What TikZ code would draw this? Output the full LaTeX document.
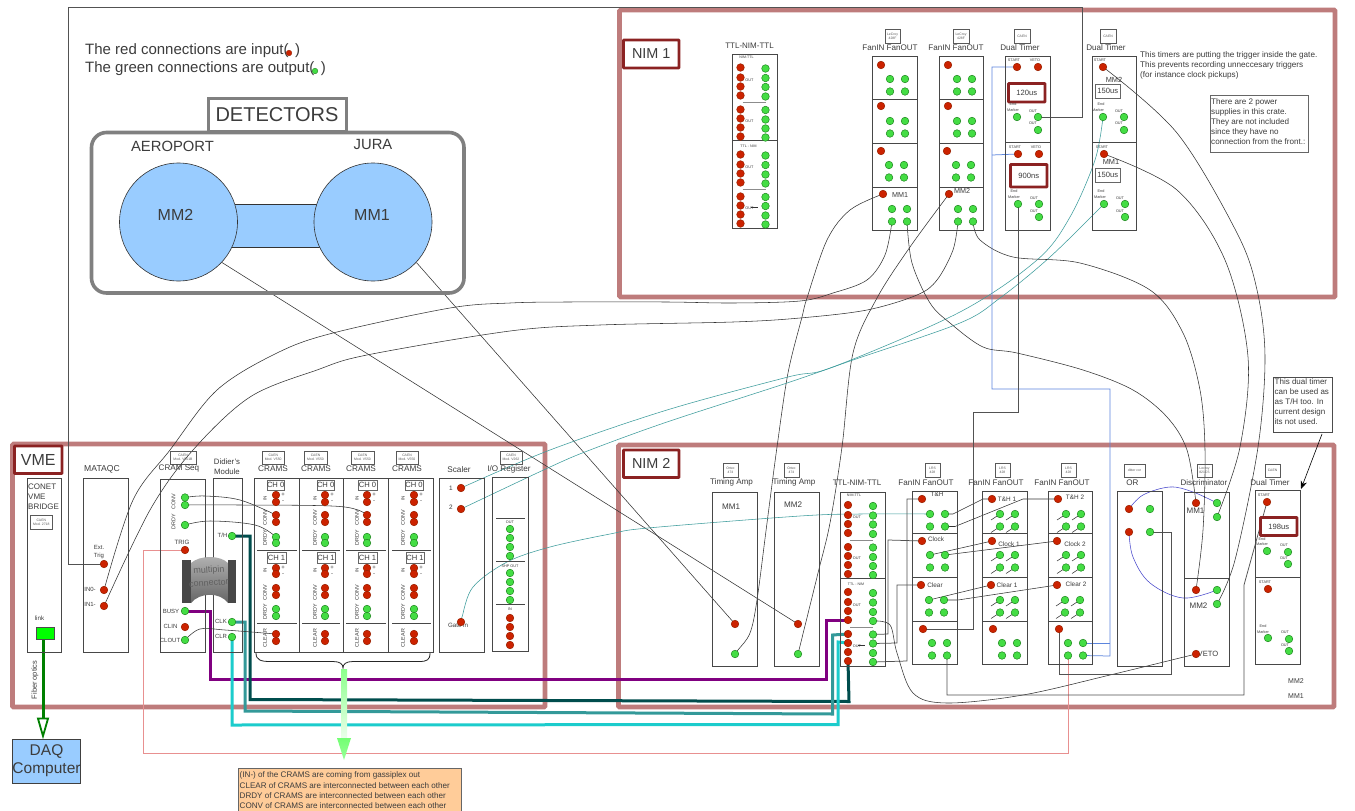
\documentclass[tikz,border=0pt]{standalone}
\usepackage{fontspec}
\setmainfont{Liberation Sans}
\usetikzlibrary{arrows.meta}
\pgfdeclarelayer{cratelayer}
\pgfdeclarelayer{wirelayer}
\pgfsetlayers{cratelayer,wirelayer,main}
\definecolor{cratecol}{HTML}{BE7C7C}
\definecolor{labred}{HTML}{8B2222}
\definecolor{inkcol}{HTML}{3C3C3C}
\definecolor{redport}{HTML}{CC2200}
\definecolor{redline}{HTML}{992200}
\definecolor{grnport}{HTML}{44DD44}
\definecolor{grnline}{HTML}{228822}
\definecolor{skyfill}{HTML}{99CCFF}
\definecolor{tealthin}{HTML}{3C9C9C}
\definecolor{blueline}{HTML}{5B85DD}
\definecolor{orline}{HTML}{4A4ACC}
\definecolor{pinkline}{HTML}{E89090}
\definecolor{buspurple}{HTML}{800080}
\definecolor{busdark}{HTML}{004D4D}
\definecolor{busmid}{HTML}{339999}
\definecolor{buscyan}{HTML}{1CCCCC}
\definecolor{fibre}{HTML}{008000}
\definecolor{notefill}{HTML}{FFCC99}
\newcount\autoid
\tikzset{
 txt/.style={text=inkcol,inner sep=0pt},
 panel/.style={draw=black!72,line width=.8pt},
 modb/.style={draw=black!65,line width=.6pt,font=\fontsize{3.4}{3.9}\selectfont,align=center,text=black!65},
 plainlab/.style={draw=black!60,line width=.8pt,text=inkcol,fill=white,font=\fontsize{7.6}{8}\selectfont},
 redlab/.style={draw=labred,line width=2.8pt,fill=white,text=inkcol,rounded corners=.6pt},
 crate/.style={draw=cratecol,line width=4.6pt,rounded corners=1pt},
 portred/.style={circle,draw=redline,line width=.5pt,fill=redport,minimum size=7.6pt,inner sep=0pt},
 portgrn/.style={circle,draw=grnline,line width=.5pt,fill=grnport,minimum size=7.6pt,inner sep=0pt},
 wire/.style={draw=black!80,line width=.55pt},
 stepw/.style={draw=black!68,line width=.75pt},
 tealw/.style={draw=tealthin,line width=.55pt},
 bluew/.style={draw=blueline,line width=.75pt},
 orw/.style={draw=orline,line width=.55pt},
 busw/.style={line width=3pt},
}
\newcommand\tx[5][0]{\global\advance\autoid by 1\relax
 \node[txt,rotate=#1,font=\fontsize{#4}{#4}\selectfont] (t\the\autoid) at (#2,#3) {#5};}
\newcommand\txl[4]{\global\advance\autoid by 1\relax
 \node[txt,anchor=west,font=\fontsize{#3}{#3}\selectfont] (t\the\autoid) at (#1,#2) {#4};}
\newcommand\redp[3]{\node[portred] (#1) at (#2,#3) {};}
\newcommand\grnp[3]{\node[portgrn] (#1) at (#2,#3) {};}
\newcommand\rectnode[7][panel]{\pgfmathsetmacro\rw{#5-#3}\pgfmathsetmacro\rh{#6-#4}%
 \node[#1,minimum width=\rw pt,minimum height=\rh pt,inner sep=0pt,outer sep=0pt,anchor=north west] (#2) at (#3,#4) {#7};}
\newcommand\fansec[6]{\redp{#1r}{#2}{#3}%
 \foreach \n/\ax/\ay in {1/0/0,2/15/0,3/0/12.5,4/15/12.5}{%
  \pgfmathsetmacro\gxx{#4+\ax}\pgfmathsetmacro\gyy{#5+\ay}\grnp{#1g\n}{\gxx}{\gyy}%
  \ifnum#6=1 \begin{pgfonlayer}{wirelayer}\draw[wire] (#1g\n.center) -- ++(-9,6);\end{pgfonlayer}\fi}}
\newcommand\ttlmod[3]{\begin{scope}[shift={(#2,#3)}]
 \rectnode{#1box}{840}{492}{885}{666}{}
 \draw[panel] (840,578) -- (885,578);
 \draw[draw=black!45,line width=1pt] (850,540) -- (873,540);
 \draw[draw=black!45,line width=1pt] (850,627) -- (873,627);
 \draw[wire] (858,645) -- (865,645);
 \tx{854}{495}{3.6}{NIM-TTL}
 \tx{856}{584}{3.6}{TTL - NIM}
 \tx{857}{517.5}{3.8}{OUT}\tx{857}{558.5}{3.8}{OUT}\tx{857}{605}{3.8}{OUT}\tx{857}{646}{3.8}{OUT}
 \foreach \k/\ry/\gy in {1/505/506,2/515/515.5,3/524/524.5,4/533/534,5/547/547.5,6/556/557,7/565/566,8/574/575,9/592/593,10/602/602.5,11/611/612,12/620/621,13/634/634.5,14/643/643.5,15/652/653,16/661/662}{%
  \redp{#1r\k}{848}{\ry}\grnp{#1g\k}{873}{\gy}}
 \end{scope}}
\begin{document}
\begin{tikzpicture}[x=1pt,y=-1pt]
\useasboundingbox (0,0) rectangle (1355,811);
\begin{pgfonlayer}{cratelayer}
 \fill[white] (0,0) rectangle (1355,811);
 \rectnode[crate]{vme}{12.5}{444}{545}{707}{}
 \rectnode[crate]{nimone}{619.5}{10}{1335}{297}{}
 \rectnode[crate]{nimtwo}{618.5}{445}{1334}{707}{}
\end{pgfonlayer}

% ---- legend and detectors
\txl{85}{50.5}{15}{The red connections are input(\hspace{6.5pt})}
\txl{85}{68.5}{15}{The green connections are output(\hspace{6.5pt})}
\node[circle,draw=redline,line width=.4pt,fill=redport,minimum size=5.6pt,inner sep=0pt] (legr) at (289,53) {};
\node[circle,draw=grnline,line width=.4pt,fill=grnport,minimum size=5.6pt,inner sep=0pt] (legg) at (315,71) {};
\rectnode[draw=black!50,line width=3.6pt,rounded corners=15pt]{detbox}{91.5}{132.5}{464}{293}{}
\rectnode[draw=black!50,line width=3pt,fill=white]{detlab}{208.5}{98.5}{346}{131}{}
\tx{277}{115}{20}{DETECTORS}
\tx{172.5}{146}{14.8}{AEROPORT}
\tx{373}{144}{14.8}{JURA}
\rectnode[draw=black!80,line width=.6pt,fill=skyfill]{detlink}{230}{204}{322}{247}{}
\node[circle,draw=black!80,line width=.6pt,fill=skyfill,minimum size=118pt,inner sep=0pt] (detm2) at (178.5,222) {};
\node[circle,draw=black!80,line width=.6pt,fill=skyfill,minimum size=118pt,inner sep=0pt] (detm1) at (373,222) {};
\tx{175.5}{215}{16}{MM2}
\tx{372}{215}{16}{MM1}

% ---- labels of crates
\rectnode[redlab]{vmel}{14.5}{446}{62}{473.5}{\fontsize{16}{16}\selectfont VME}
\rectnode[redlab]{nimonel}{623.5}{40}{679}{68}{\fontsize{14.4}{14.4}\selectfont NIM 1}
\rectnode[redlab]{nimtwol}{623.5}{450}{679}{477.5}{\fontsize{14.4}{14.4}\selectfont NIM 2}

% ---- VME crate: bridge
\rectnode{conet}{27}{478}{61}{652}{}
\txl{28}{487}{8}{CONET}
\txl{28}{497}{8}{VME}
\txl{28}{507}{8}{BRIDGE}
\rectnode[modb]{conetm}{30.5}{515}{52}{529}{CAEN\\Mod. 2718}
\tx{39.5}{618}{6.2}{link}
\rectnode[draw=black!70,line width=.6pt,fill=green!100]{linkb}{36}{627}{54}{639}{}
\tx[90]{35}{680}{7.4}{Fiber optics}
\rectnode[draw=black!75,line width=.6pt,fill=skyfill,align=center,text=inkcol,font=\fontsize{15.5}{18}\selectfont]{daq}{12.5}{739}{80}{783}{DAQ\\Computer}

% ---- MATAQC
\tx{102}{469}{8.6}{MATAQC}
\rectnode{mataqc}{83}{478}{128}{652}{}
\tx{99}{547}{6}{Ext.}
\tx{99}{555.5}{6}{Trig}
\tx{90}{589}{6}{IN0-}
\tx{90}{604.5}{6}{IN1-}
\redp{mext}{104}{564}
\redp{min0}{104}{590}
\redp{min1}{104}{606}

% ---- CRAM Seq
\rectnode[modb]{seqm}{170}{451}{196}{464}{CAEN\\Mod. V551B}
\tx{179}{469}{8.1}{CRAM Seq}
\rectnode{seq}{160}{479}{205.5}{652}{}
\tx[90]{173.5}{502}{5.4}{CONV}
\tx[90]{173.5}{522}{5.4}{DRDY}
\tx{182}{542}{6.2}{TRIG}
\tx{171}{611}{6}{BUSY}
\tx{170.5}{626.5}{6}{CLIN}
\tx{170}{640.5}{6}{CLOUT}
\grnp{sconva}{185}{497.5}
\grnp{sconvb}{185}{505}
\grnp{sdrdy}{185}{525}
\redp{strig}{185}{550}
\grnp{sbusy}{185}{611}
\redp{sclin}{185}{627}
\grnp{sclout}{185}{640}

% ---- Didier's module
\tx{227}{462}{7.8}{Didier's}
\tx{227}{472}{7.8}{Module}
\rectnode{didier}{213}{478}{242}{652}{}
\tx{222.5}{535.5}{6}{T/H}
\tx{221}{621.5}{6}{CLK}
\tx{221}{636}{6}{CLR}
\grnp{dth}{232}{536}
\grnp{dclk}{232}{622}
\grnp{dclr}{232}{637}

% ---- multipin connector
\shade[top color=black!30,bottom color=black!60] (191,563) .. controls (200,555) and (220,555) .. (228,563) -- (228,603) .. controls (220,592) and (200,592) .. (191,603) -- cycle;
\rectnode[fill=black!72]{mpl}{181.5}{560}{190.5}{603}{}
\rectnode[fill=black!72]{mpr}{228}{560}{235.5}{603}{}
\node[text=black!62,inner sep=0pt,rotate=4,font=\fontsize{9}{9}\selectfont] (mpa) at (209,570.5) {multipin};
\node[text=black!62,inner sep=0pt,rotate=4,font=\fontsize{9}{9}\selectfont] (mpb) at (209,583) {connector};

% ---- CRAMS
\rectnode{crams}{254}{478}{433}{652}{}
\draw[panel] (299,478) -- (299,652);
\draw[panel] (343.5,478) -- (343.5,652);
\draw[panel] (388,478) -- (388,652);
\foreach \i/\px/\lx/\tcx/\ma/\mb/\cha/\chb/\cca/\ccb/\da/\db in {1/276/265/273/262/284.5/267/284/267/286/257/297,2/325/315/316/304/327/317/333/317/335/302/340,3/367/357/361/351/374/358/377/358/377/346/386,4/414/403/407/396/418/405/423/406/424/392/431}{%
 \rectnode[modb]{cm\i}{\ma}{451}{\mb}{464}{CAEN\\Mod. V550}
 \tx{\tcx}{469}{8.2}{CRAMS}
 \rectnode[plainlab]{chz\i}{\cha}{480}{\chb}{490}{CH 0}
 \rectnode[plainlab]{cho\i}{\cca}{552.5}{\ccb}{563}{CH 1}
 \draw[panel,line width=.6pt] (\da,550) -- (\db,550);
 \draw[panel,line width=.6pt] (\da,623) -- (\db,623);
 \tx[90]{\lx}{498}{4.6}{IN}
 \tx[90]{\lx}{518}{5.4}{CONV}
 \tx[90]{\lx}{538}{5.4}{DRDY}
 \tx[90]{\lx}{570}{4.6}{IN}
 \tx[90]{\lx}{593}{5.4}{CONV}
 \tx[90]{\lx}{612}{5.4}{DRDY}
 \tx[90]{\lx}{638}{5.4}{CLEAR}
 \pgfmathsetmacro\sgn{\px+7}
 \tx{\sgn}{495}{6}{+}\tx{\sgn}{501.5}{6}{-}
 \tx{\sgn}{568}{6}{+}\tx{\sgn}{574.5}{6}{-}
 \redp{c\i-ina}{\px}{495}\redp{c\i-inb}{\px}{502}
 \redp{c\i-conva}{\px}{515}\redp{c\i-convb}{\px}{522}
 \grnp{c\i-drdya}{\px}{537}\grnp{c\i-drdyb}{\px}{543}
 \redp{c\i-inc}{\px}{568}\redp{c\i-ind}{\px}{574}
 \redp{c\i-convc}{\px}{588}\redp{c\i-convd}{\px}{595}
 \grnp{c\i-drdyc}{\px}{609}\grnp{c\i-drdyd}{\px}{616}
 \redp{c\i-cleara}{\px}{634}\redp{c\i-clearb}{\px}{641}
}
\draw[draw=black!85,line width=.8pt] (256,653) .. controls (256,660) and (261,661.5) .. (270,661.5) -- (333,661.5) .. controls (340,661.5) and (343,664) .. (343,668) .. controls (343,664) and (346,661.5) .. (353,661.5) -- (419,661.5) .. controls (427,661.5) and (430,660) .. (430,653);
\shade[top color=green!45!white,bottom color=green!8!white] (341,669) rectangle (347,738);
\shade[top color=green!55!white,bottom color=green!40!white] (337,738) -- (351,738) -- (344,760) -- cycle;
\rectnode[draw=black!60,line width=.7pt,fill=notefill]{cnote}{238}{768}{461}{816}{}
\txl{239.5}{775.5}{8.1}{(IN-) of the CRAMS are coming from gassiplex out}
\txl{239.5}{785.5}{8.1}{CLEAR of CRAMS are interconnected between each other}
\txl{239.5}{795.5}{8.1}{DRDY of CRAMS are interconnected between each other}
\txl{239.5}{805.5}{8.1}{CONV of CRAMS are interconnected between each other}

% ---- Scaler
\tx{459}{470}{8.2}{Scaler}
\rectnode{scaler}{439}{478}{484}{652}{}
\tx{451}{488}{6.4}{1}
\tx{451}{507}{6.4}{2}
\tx{458}{625.5}{6.2}{Gate in}
\redp{sc1}{461}{488}
\redp{sc2}{461}{509}
\redp{scg}{461}{622}

% ---- IO register
\rectnode[modb]{iom}{500}{451}{522}{464}{CAEN\\Mod. V262}
\tx{509}{469}{8.1}{I/O Register}
\rectnode{ioreg}{492}{477}{528}{651}{}
\draw[panel,line width=.6pt] (496,518) -- (525,518);
\draw[panel,line width=.6pt] (496,561) -- (525,561);
\draw[panel,line width=.6pt] (496,604) -- (525,604);
\tx{510}{522.5}{3.8}{OUT}
\tx{510}{566}{3.8}{SHP OUT}
\tx{510}{609.5}{3.8}{IN}
\foreach \k/\gy/\hy/\iy in {1/529/573/618,2/538/582/627,3/547/591/636,4/556/600/645}{%
 \grnp{iog\k}{510}{\gy}\grnp{ioh\k}{510}{\hy}\redp{ior\k}{510}{\iy}}

% ---- NIM 2: timing amps
\rectnode[modb]{tam}{723}{463}{738}{477}{Ortec\\474}
\rectnode[modb]{tbm}{784}{463}{799}{477}{Ortec\\474}
\tx{731.5}{482.5}{8.1}{Timing Amp}
\tx{794}{482.5}{8.1}{Timing Amp}
\rectnode{ta}{712}{492}{757}{666}{}
\rectnode{tb}{774}{492}{819}{666}{}
\tx{731}{507}{8.1}{MM1}
\tx{793}{505}{8.1}{MM2}
\redp{tain}{735}{624}\grnp{taout}{735}{654}
\redp{tbin}{798}{624}\grnp{tbout}{798}{654}

% ---- TTL-NIM-TTL modules
\tx{857}{482.5}{8}{TTL-NIM-TTL}
\ttlmod{tt}{0}{0}
\tx{749.5}{45.5}{8}{TTL-NIM-TTL}
\ttlmod{tu}{-107.5}{-437.5}

% ---- NIM 2: fan in fan out
\foreach \cx/\ma/\mb/\bx/\bxb/\nm in {926/925/940/912/957/h1,996/995/1010/982/1027/h2,1062/1061/1076/1048/1092/h3}{%
 \rectnode[modb]{\nm m}{\ma}{463}{\mb}{477}{LRS\\428}
 \tx{\cx}{482.5}{8.1}{FanIN FanOUT}
 \rectnode{\nm b}{\bx}{491}{\bxb}{664}{}
 \draw[panel] (\bx,533) -- (\bxb,533);
 \draw[panel] (\bx,577) -- (\bxb,577);
 \draw[panel] (\bx,621) -- (\bxb,621);
}
\fansec{h1s1}{922}{499}{930}{514}{0}
\fansec{h1s2}{922}{541}{930}{555}{0}
\fansec{h1s3}{921}{585}{929}{600}{0}
\fansec{h1s4}{923}{629}{932}{643}{0}
\fansec{h2s1}{992}{499}{1000}{514}{1}
\fansec{h2s2}{992}{541}{1000}{555}{1}
\fansec{h2s3}{991}{585}{1000}{600}{1}
\fansec{h2s4}{993}{629}{1002}{643}{0}
\fansec{h3s1}{1058}{499}{1066}{514}{1}
\fansec{h3s2}{1057}{541}{1066}{555}{1}
\fansec{h3s3}{1057}{585}{1065}{600}{1}
\fansec{h3s4}{1059}{629}{1068}{643}{0}
\tx{937}{494}{6.4}{T\&H}
\tx{936}{539}{6.4}{Clock}
\tx{935}{585}{6.4}{Clear}
\tx{1007}{499}{6.4}{T\&H 1}
\tx{1009}{544}{6.4}{Clock 1}
\tx{1007}{585}{6.4}{Clear 1}
\tx{1075}{497}{6.4}{T\&H 2}
\tx{1075}{544}{6.4}{Clock 2}
\tx{1076}{584}{6.4}{Clear 2}

% ---- NIM 2: OR
\rectnode[modb]{orm}{1124}{464}{1145}{477}{ditter cor}
\tx{1132.5}{482.5}{8.1}{OR}
\rectnode{orb}{1117}{491}{1162}{666}{}
\redp{orra}{1129}{509}\grnp{orga}{1150}{509}
\redp{orrb}{1129}{532}\grnp{orgb}{1150}{532}

% ---- NIM 2: discriminator
\rectnode[modb]{dim}{1197}{464}{1212}{477}{Lecroy\\821CS}
\tx{1204}{482.5}{8}{Discriminator}
\rectnode{disc}{1184}{492}{1229}{666}{}
\draw[panel] (1184,578) -- (1229,578);
\tx{1195.5}{511}{8}{MM1}
\tx{1198.5}{606}{8}{MM2}
\tx{1208}{654}{7.6}{VETO}
\redp{dar}{1196}{503}\grnp{daga}{1217}{503}\grnp{dagb}{1217}{517}
\redp{dbr}{1196}{590}\grnp{dbga}{1217}{590}\grnp{dbgb}{1217}{604}
\redp{dveto}{1196}{654}

% ---- NIM 2: dual timer
\rectnode[modb]{dtm}{1265}{464}{1280}{477}{CAEN}
\tx{1270}{482.5}{8.1}{Dual Timer}
\rectnode{dt}{1255}{490}{1300}{664}{}
\draw[panel] (1255,577) -- (1300,577);
\tx{1264}{495}{3.8}{START}
\rectnode[redlab,font=\fontsize{7.6}{8}\selectfont]{dtb}{1260.5}{517.5}{1297}{535.5}{198us}
\tx{1262}{539}{3.8}{End}\tx{1262}{544.5}{3.8}{Marker}
\tx{1284}{545}{3.8}{OUT}\tx{1284}{558}{3.8}{OUT}
\redp{dtr}{1267}{502}\grnp{dte}{1267}{551}\grnp{dtoa}{1288}{552}\grnp{dtob}{1288}{564}
\tx{1265}{582}{3.8}{START}
\tx{1263}{626}{3.8}{End}\tx{1263}{632}{3.8}{Marker}
\tx{1285}{632}{3.8}{OUT}\tx{1285}{645}{3.8}{OUT}
\redp{dur}{1268}{589}\grnp{due}{1268}{638}\grnp{duoa}{1289}{639}\grnp{duob}{1289}{651}
\tx{1296}{681}{7}{MM2}
\tx{1296}{696}{7}{MM1}
\rectnode[draw=black!70,line width=.7pt,fill=white]{dnote}{1273}{377}{1332}{432}{}
\node[txt,anchor=north west,align=left,font=\fontsize{8}{10}\selectfont] (dnotet) at (1274.5,378.5) {This dual timer\\can be used as\\as T/H too. In\\current design\\its not used.};
\coordinate (dnotea) at (1322,434);
\coordinate (dnoteb) at (1301,489);
\draw[draw=black,line width=.6pt,-{Stealth[length=8pt,width=6.5pt]}] (dnotea) -- (dnoteb);

% ---- NIM 1: fan in fan out
\rectnode[modb]{fam}{885}{29}{900}{43}{LeCroy\\428F}
\rectnode[modb]{fbm}{953}{29}{969}{43}{LeCroy\\428F}
\tx{890}{48}{8.1}{FanIN FanOUT}
\tx{956}{48}{8.1}{FanIN FanOUT}
\foreach \bx/\bxb/\nm in {872/917/fa,939/983/fb}{%
 \rectnode{\nm b}{\bx}{56}{\bxb}{230}{}
 \draw[panel] (\bx,99) -- (\bxb,99);
 \draw[panel] (\bx,143) -- (\bxb,143);
 \draw[panel] (\bx,187) -- (\bxb,187);
}
\fansec{f1s1}{881}{65}{890}{79}{0}
\fansec{f1s2}{881}{106}{890}{121}{0}
\fansec{f1s3}{881}{151}{889}{165}{0}
\fansec{f1s4}{883}{194}{892}{209}{0}
\fansec{f2s1}{948}{65}{957}{79}{0}
\fansec{f2s2}{948}{106}{957}{121}{0}
\fansec{f2s3}{947}{151}{956}{165}{0}
\fansec{f2s4}{949}{194}{958}{209}{0}
\tx{900}{195}{7.2}{MM1}
\tx{962}{191}{7.2}{MM2}

% ---- NIM 1: dual timers
\rectnode[modb]{xam}{1014}{29}{1030}{43}{CAEN}
\rectnode[modb]{xbm}{1100}{29}{1116}{43}{CAEN}
\tx{1020}{48}{8.1}{Dual Timer}
\tx{1106}{48}{8.1}{Dual Timer}
\rectnode{xa}{1005}{56}{1050}{230}{}
\rectnode{xb}{1092}{56}{1136}{230}{}
\draw[panel] (1005,142) -- (1050,142);
\draw[panel] (1092,142) -- (1136,142);
\tx{1014}{60}{3.8}{START}\tx{1035}{60}{3.8}{VETO}
\tx{1015}{147}{3.8}{START}\tx{1036}{147}{3.8}{VETO}
\rectnode[redlab,font=\fontsize{7.6}{8}\selectfont]{xaa}{1008.5}{83.5}{1045}{102}{120us}
\rectnode[redlab,font=\fontsize{7.6}{8}\selectfont]{xab}{1010.5}{164.5}{1047}{187}{900ns}
\tx{1013}{104}{3.8}{End}\tx{1013}{110}{3.8}{Marker}
\tx{1033}{111}{3.8}{OUT}\tx{1033}{123}{3.8}{OUT}
\tx{1014}{191}{3.8}{End}\tx{1014}{197}{3.8}{Marker}
\tx{1034}{198}{3.8}{OUT}\tx{1034}{211}{3.8}{OUT}
\redp{xast}{1017}{67}\redp{xave}{1038}{67}
\grnp{xaen}{1017}{117}\grnp{xaoa}{1038}{117}\grnp{xaob}{1038}{130}
\redp{xbst}{1018}{154}\redp{xbve}{1039}{154}
\grnp{xben}{1018}{204}\grnp{xboa}{1039}{204}\grnp{xbob}{1039}{217}
\tx{1100}{60}{3.8}{START}
\tx{1102}{147}{3.8}{START}
\tx{1114}{80}{7.4}{MM2}
\tx{1111}{162}{7.4}{MM1}
\rectnode[plainlab]{ybx}{1095.5}{84}{1120}{98}{150us}
\rectnode[plainlab]{ycx}{1095.5}{168}{1120}{182}{150us}
\tx{1101}{104}{3.8}{End}\tx{1098}{110}{3.8}{Marker}
\tx{1119}{111}{3.8}{OUT}\tx{1119}{123}{3.8}{OUT}
\tx{1101}{191}{3.8}{End}\tx{1100}{197}{3.8}{Marker}
\tx{1120}{198}{3.8}{OUT}\tx{1120}{211}{3.8}{OUT}
\redp{ybst}{1103}{67}\grnp{yben}{1103}{117}\grnp{yboa}{1124}{117}\grnp{ybob}{1124}{130}
\redp{ycst}{1104}{154}\grnp{ycen}{1104}{204}\grnp{ycoa}{1125}{204}\grnp{ycob}{1125}{217}
\txl{1140}{55}{8.15}{This timers are putting the trigger inside the gate.}
\txl{1140}{65}{8.15}{This prevents recording unneccesary triggers}
\txl{1140}{75}{8.15}{(for instance clock pickups)}
\rectnode[draw=black!60,line width=.7pt,fill=white]{pnote}{1210}{95.5}{1308}{152}{}
\node[txt,anchor=north west,align=left,font=\fontsize{8.1}{10}\selectfont] (pnotet) at (1211,98) {There are 2 power\\supplies in this crate.\\They are not included\\since they have no\\connection from the front.:};

% ================ connectors =================
\begin{pgfonlayer}{wirelayer}
% detectors to timing amps
\draw[wire] (detm2.-43) -- (tbin.center);
\draw[wire] (detm1.-43) -- (tain.center);
% external trigger
\draw[stepw] (mext.center) -- (68.5,564) -- (68.5,7) -- (1082,7) -- (1082,117) -- (xaoa.center);
% IN0 and IN1
\draw[wire] plot[smooth,tension=.55] coordinates {(min0.center) (133,500) (170,450) (217,390) (277,353) (333,333) (450,308) (510,303) (567,302) (667,302) (733,303) (800,301) (833,293) (867,280) (885,255) (f1s4g3.center)};
\draw[wire] plot[smooth,tension=.55] coordinates {(min1.center) (150,510) (193,450) (250,397) (317,370) (367,355) (510,331) (600,325) (733,322) (800,318) (867,310) (917,295) (937,280) (953,250) (f2s4g3.center)};
% fan outs to timing amp
\draw[wire] plot[smooth,tension=.55] coordinates {(f1s4r.center) (850,210) (827,240) (807,298) (802,317) (788,373) (777,447) (767,523) (757,600) (750,633) (738,650) (taout.center)};
\draw[wire] plot[smooth,tension=.55] coordinates {(f2s4r.center) (910,247) (877,298) (853,353) (842,447) (830,523) (818,573) (tbout.center)};
% scaler teal
\draw[tealw] plot[smooth,tension=.55] coordinates {(sc1.center) (550,450) (667,410) (788,377) (833,367) (960,312) (1037,260) (1070,217) (1095,160) (yben.center)};
\draw[tealw] plot[smooth,tension=.55] coordinates {(sc2.center) (550,467) (590,450) (667,422) (787,383) (853,360) (960,323) (1000,298) (1050,257) (ycen.center)};
\draw[tealw] plot[smooth,tension=.55] coordinates {(scg.center) (462,617) (473,587) (507,562) (550,547) (610,534) (648,528) (800,516) (860,514) (h1s1g1.center)};
% trig
\draw[draw=pinkline,line width=.7pt] (strig.center) -- (143,550) -- (143,753) -- (1068,753) -- (h3s4g3.center);
% crate buses
\draw[busw,draw=buspurple] (sbusy.center) -- (210,611) -- (210,679) -- (826,679) -- (826,620) -- (ttr12.center);
\draw[busw,draw=busdark] (dth.center) -- (250,536) -- (250,699.5) -- (849,701.5) -- (ttr16.center);
\draw[busw,draw=busmid] (dclk.center) -- (245,622) -- (245,711) -- (832.5,714) -- (832.5,635) -- (ttr13.center);
\draw[busw,draw=buscyan] (dclr.center) -- (232,725) -- (838,724.5) -- (838,642) -- (ttr14.center);
% fibre
\coordinate (fibtop) at (43,639);
\coordinate (fibbot) at (43,739.5);
\draw[line width=3pt,draw=fibre,-{Triangle[open,fill=white,length=22pt,width=12pt,line width=1.8pt]}] (fibtop) -- (fibbot);
% seq to crams
\draw[wire] plot[smooth,tension=.6] coordinates {(sclout.center) (200,629) (225,630) (c1-cleara.center)};
\draw[wire] plot[smooth,tension=.6] coordinates {(sconva.center) (205,496) (240,500) (c1-conva.center)};
\draw[wire] plot[smooth,tension=.6] coordinates {(sconvb.center) (240,505) (340,506.5) (c3-conva.center)};
\draw[wire] plot[smooth,tension=.6] coordinates {(sdrdy.center) (210,521) (255,525) (c1-drdya.center)};
% ttl-nim outputs
\draw[stepw] (ttg13.center) -- (888,634) -- (888,540) -- (h1s2r.center);
\draw[stepw] (ttg14.center) -- (897,643) -- (897,585) -- (h1s3r.center);
\draw[stepw] (ttg16.center) -- (907,661) -- (907,499) -- (h1s1r.center);
\draw[wire] plot[smooth,tension=.55] coordinates {(ttg12.center) (890,625) (897,653) (913,693) (947,703) (1023,695) (1110,675) (dveto.center)};
% fan out cascades
\draw[wire] (h1s1g2.center) -- (953,514) -- (983,499) -- (h2s1r.center);
\draw[wire] (h1s1g4.center) -- (955,526.5) -- (1023,499) -- (h3s1r.center);
\draw[wire] (h1s2g1.center) -- (h2s2r.center);
\draw[wire] (h1s2g2.center) -- (h3s2r.center);
\draw[wire] (h1s3g1.center) -- (h2s3r.center);
\draw[wire] (h1s3g2.center) -- (958,600) -- (h3s3r.center);
% blue gates
\draw[bluew] (h3s4g2.center) -- (1110,643);
\draw[bluew] (h3s4g4.center) -- (1110,656) -- (1110,389) -- (992,389) -- (992,67) -- (xast.center);
\draw[bluew] (992,155) -- (xbst.center);
% steps
\draw[stepw] (xben.center) -- (1018,412) -- (973,412) -- (973,629) -- (h1s4r.center);
\draw[stepw] (h3s4r.center) -- (1059,674) -- (1171,674) -- (1171,532) -- (orgb.center);
\draw[stepw] (h1s4g4.center) -- (947,695) -- (1244,695) -- (1244,585) -- (dtr.center);
% OR
\draw[orw] plot[smooth,tension=.6] coordinates {(orra.center) (1143,495) (1170,487) (1193,492) (daga.center)};
\draw[orw] plot[smooth,tension=.6] coordinates {(orrb.center) (1133,557) (1150,583) (1183,598) (dbga.center)};
% fan outs to discriminator
\draw[wire] plot[smooth,tension=.55] coordinates {(f1s4g4.center) (912,263) (930,303) (950,323) (983,347) (1017,353) (1083,370) (1133,390) (1167,417) (1187,450) (dar.center)};
\draw[wire] plot[smooth,tension=.55] coordinates {(f2s4g4.center) (980,240) (1013,257) (1080,263) (1150,290) (1183,333) (1200,390) (1205,450) (1203,530) (dbr.center)};
\draw[wire] plot[smooth,tension=.55] coordinates {(ycst.center) (1177,190) (1225,260) (1248,357) (1240,447) (dagb.center)};
\draw[wire] plot[smooth,tension=.55] coordinates {(ybst.center) (1177,133) (1237,233) (1257,290) (1265,357) (1258,447) (1235,560) (dbgb.center)};
\end{pgfonlayer}
\end{tikzpicture}
\end{document}
